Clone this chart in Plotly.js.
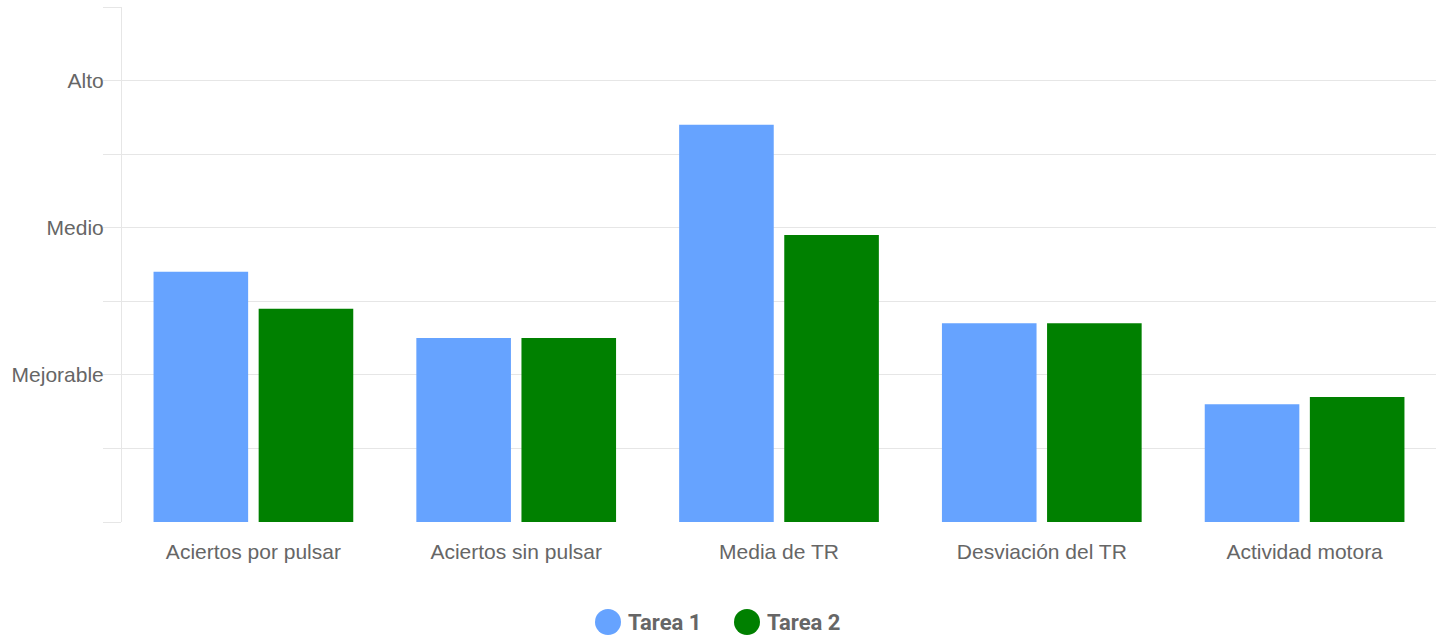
<!DOCTYPE html>
<html>
<head>
<meta charset="utf-8">
<script src="https://cdn.plot.ly/plotly-3.0.1.min.js"></script>
<style>html,body{margin:0;padding:0;background:#fff;}#chart{width:1444px;height:638px;}</style>
</head>
<body>
<div id="chart"></div>
<script>
const categories = ["Aciertos por pulsar", "Aciertos sin pulsar", "Media de TR", "Desviación del TR", "Actividad motora"];
const tarea1 = [1.70, 1.25, 2.70, 1.35, 0.80];
const tarea2 = [1.45, 1.25, 1.95, 1.35, 0.85];
const seriesNames = ["Tarea 1", "Tarea 2"];
const yTickVals = [0, 0.5, 1, 1.5, 2, 2.5, 3, 3.5];
const yTickText = ["", "", "Mejorable", "", "Medio", "", "Alto", ""];

const colors = ["#66a3ff", "#008000"];
const gridColor = "#e6e6e6";
const font = "Liberation Sans, Arial, sans-serif";

const traces = [tarea1, tarea2].map((vals, i) => ({
  type: "bar",
  name: seriesNames[i],
  x: categories,
  y: vals,
  marker: {color: colors[i]},
  showlegend: false,
  hoverinfo: "x+y+name"
}));

// custom legend (large circles)
const legendShapes = [];
const legendAnn = [];
const legendX = [608, 747];
seriesNames.forEach((n, i) => {
  legendShapes.push({
    type: "circle", xref: "paper", yref: "paper",
    xsizemode: "pixel", ysizemode: "pixel",
    xanchor: (legendX[i] - 122) / (1436 - 122), yanchor: -(622 - 522) / (522 - 7),
    x0: -13, x1: 13, y0: -13, y1: 13,
    fillcolor: colors[i], line: {width: 0}
  });
  legendAnn.push({
    xref: "paper", yref: "paper",
    x: (legendX[i] + 18 - 122) / (1436 - 122), y: -(622 - 522) / (522 - 7),
    xanchor: "left", yanchor: "middle", showarrow: false,
    text: "<b>" + n + "</b>",
    font: {family: "Roboto, sans-serif", size: 22, color: "#666"}
  });
});

const layout = {
  width: 1444, height: 638,
  margin: {l: 122, r: 8, t: 7, b: 116},
  paper_bgcolor: "#fff", plot_bgcolor: "#fff",
  bargap: 0.2, bargroupgap: 0.1, barmode: "group",
  font: {family: font, size: 21, color: "#666"},
  xaxis: {
    type: "category",
    showgrid: false, zeroline: false, showline: false,
    ticks: "", tickfont: {family: font, size: 21, color: "#666"},
    ticklabelstandoff: 15
  },
  yaxis: {
    range: [0, 3.5], tickvals: yTickVals, ticktext: yTickText,
    showgrid: true, gridcolor: gridColor, gridwidth: 1,
    zeroline: false, showline: true, linecolor: gridColor, linewidth: 1,
    ticks: "outside", ticklen: 18, tickcolor: gridColor, tickwidth: 1,
    tickfont: {family: font, size: 21, color: "#666"},
    ticklabelstandoff: -5
  },
  shapes: legendShapes,
  annotations: legendAnn,
  showlegend: false
};

Plotly.newPlot("chart", traces, layout, {displayModeBar: false});
</script>
</body>
</html>
